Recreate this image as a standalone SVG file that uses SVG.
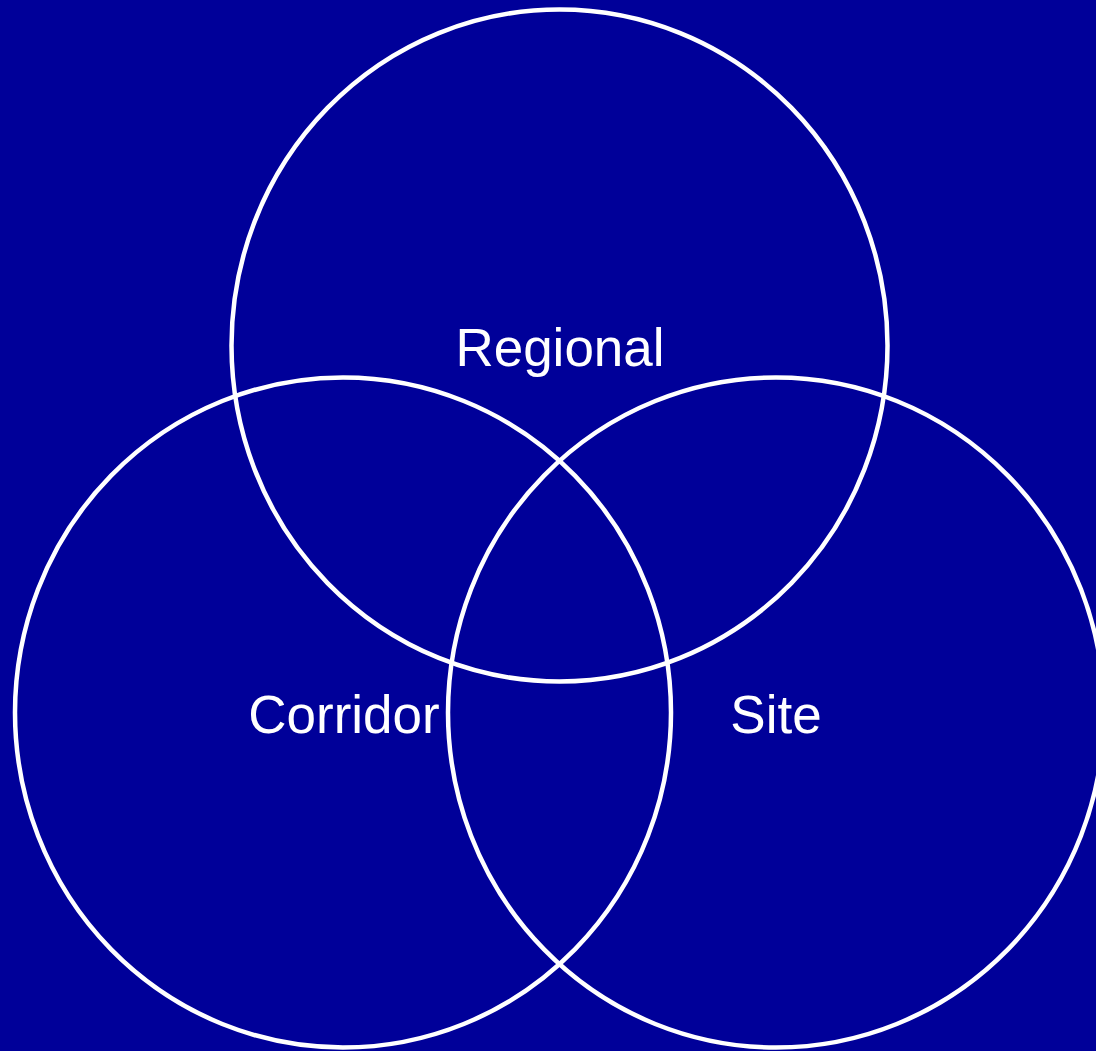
<svg xmlns="http://www.w3.org/2000/svg" width="1096" height="1051" viewBox="0 0 1096 1051">
<style>
.ring{fill:none;stroke:#ffffff;stroke-width:4.5}
.lbl{font-family:"Liberation Sans",Arial,sans-serif;font-size:53px;fill:#ffffff;text-anchor:middle}
</style>
<rect width="1096" height="1051" fill="#000099"/>
<g id="regional">
<ellipse class="ring" cx="559.5" cy="345.5" rx="328" ry="336"/>
<text class="lbl" x="560" y="366">Regional</text>
</g>
<g id="corridor">
<ellipse class="ring" cx="343" cy="712.5" rx="328" ry="335"/>
<text class="lbl" x="344" y="733">Corridor</text>
</g>
<g id="site">
<ellipse class="ring" cx="776" cy="712.5" rx="328" ry="335"/>
<text class="lbl" x="776" y="733">Site</text>
</g>
<g id="connectors"/>
</svg>
